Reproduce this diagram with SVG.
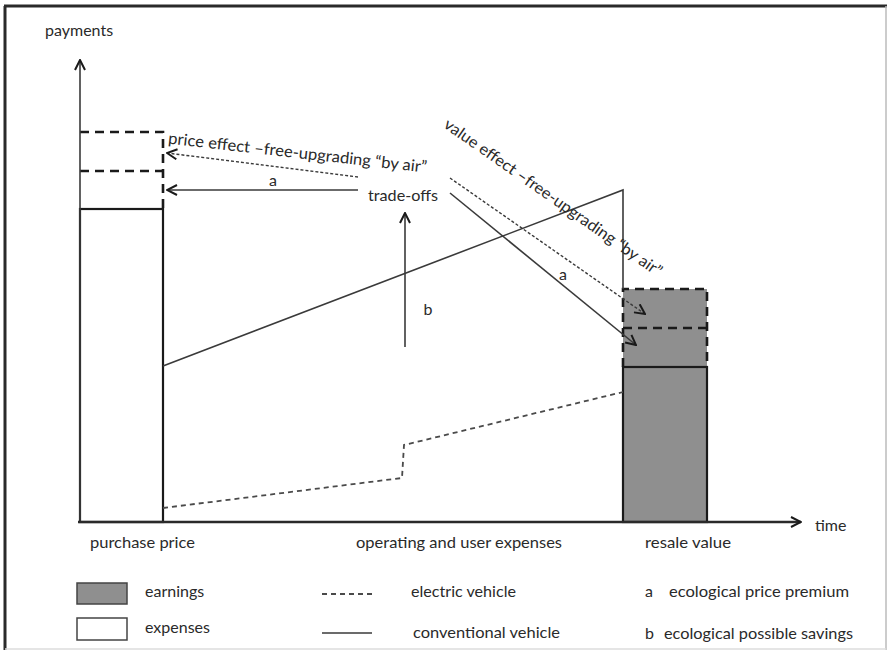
<svg xmlns="http://www.w3.org/2000/svg" width="888" height="651" viewBox="0 0 888 651">
<style>
text{font-family:Lato,"Open Sans","Liberation Sans",sans-serif;font-size:16px;fill:#2a2a2a}
.ln{stroke:#3a3a3a;stroke-width:1.6;fill:none}
.dot{stroke:#3a3a3a;stroke-width:1.4;fill:none;stroke-dasharray:3 2}
.dash{stroke:#1a1a1a;stroke-width:2.6;fill:none;stroke-dasharray:9 6}
.ev{stroke:#4a4a4a;stroke-width:1.8;fill:none;stroke-dasharray:5 4}
</style>
<defs>
<marker id="ah" viewBox="0 0 12 12" refX="11" refY="6" markerWidth="12" markerHeight="12" markerUnits="userSpaceOnUse" orient="auto">
<path d="M1,1 L11,6 L1,11" fill="none" stroke="#1a1a1a" stroke-width="2"/>
</marker>
</defs>
<rect width="888" height="651" fill="#ffffff"/>
<g id="frame">
<line x1="4" y1="6" x2="887" y2="6" stroke="#2a2a2a" stroke-width="3"/>
<line x1="5" y1="6" x2="5" y2="650" stroke="#2a2a2a" stroke-width="3"/>
<line x1="886" y1="6" x2="886" y2="650" stroke="#bbbbbb" stroke-width="1.5"/>
<line x1="5" y1="649" x2="886" y2="649" stroke="#dddddd" stroke-width="1.5"/>
</g>
<g id="purchase-bar">
<rect x="80" y="209" width="83" height="313" fill="#ffffff" stroke="#1a1a1a" stroke-width="2.2"/>
<path class="dash" d="M80,132 H163 V209 M80,171 H163"/>
</g>
<g id="resale-bar">
<rect x="623" y="289" width="84" height="233" fill="#8f8f8f"/>
<rect x="623" y="367" width="84" height="155" fill="#8f8f8f" stroke="#1a1a1a" stroke-width="2.2"/>
<path class="dash" d="M623,367 V289 H707 V367 M623,328 H707"/>
</g>
<g id="axes">
<line class="ln" x1="80" y1="522" x2="80" y2="60" marker-end="url(#ah)"/>
<line x1="78" y1="522" x2="801" y2="522" stroke="#2a2a2a" stroke-width="2.4" marker-end="url(#ah)"/>
<text x="45" y="36">payments</text>
<text x="815" y="531">time</text>
</g>
<g id="connectors">
<polyline class="ln" points="163,366 623,190 623,289"/>
<polyline class="ev" points="163,508 402,478 404,445 623,392"/>
<line class="dot" x1="358" y1="177" x2="167" y2="153" marker-end="url(#ah)"/>
<line class="ln" x1="358" y1="190" x2="167" y2="190" marker-end="url(#ah)"/>
<line class="ln" x1="405" y1="347" x2="405" y2="213" marker-end="url(#ah)"/>
<line class="dot" x1="450" y1="178" x2="645" y2="314" marker-end="url(#ah)"/>
<line class="ln" x1="450" y1="193" x2="636" y2="345" marker-end="url(#ah)"/>
</g>
<g id="labels">
<text x="297" y="158" text-anchor="middle" textLength="260" lengthAdjust="spacingAndGlyphs" transform="rotate(6.4 297 158)">price effect –free-upgrading “by air”</text>
<text x="550" y="202" text-anchor="middle" textLength="262" lengthAdjust="spacingAndGlyphs" transform="rotate(35 550 202)">value effect –free-upgrading “by air”</text>
<text x="273" y="186" text-anchor="middle">a</text>
<text x="563" y="280" text-anchor="middle">a</text>
<text x="428" y="315" text-anchor="middle">b</text>
<text x="368" y="201" textLength="70" lengthAdjust="spacingAndGlyphs">trade-offs</text>
<text x="90" y="548" textLength="105" lengthAdjust="spacingAndGlyphs">purchase price</text>
<text x="356" y="548" textLength="206" lengthAdjust="spacingAndGlyphs">operating and user expenses</text>
<text x="645" y="548" textLength="86" lengthAdjust="spacingAndGlyphs">resale value</text>
</g>
<g id="legend">
<rect x="77" y="583" width="50" height="21" fill="#8f8f8f" stroke="#444" stroke-width="1.5"/>
<rect x="77" y="618" width="50" height="22" fill="#ffffff" stroke="#444" stroke-width="1.5"/>
<text x="145" y="597">earnings</text>
<text x="145" y="633">expenses</text>
<line class="ev" x1="322" y1="594" x2="372" y2="594" stroke-width="1.5" stroke-dasharray="4 3"/>
<line class="ln" x1="322" y1="633" x2="372" y2="633"/>
<text x="411" y="597" textLength="105" lengthAdjust="spacingAndGlyphs">electric vehicle</text>
<text x="413" y="638" textLength="147" lengthAdjust="spacingAndGlyphs">conventional vehicle</text>
<text x="645" y="597">a</text>
<text x="669" y="597" textLength="180" lengthAdjust="spacingAndGlyphs">ecological price premium</text>
<text x="645" y="639">b</text>
<text x="664" y="639" textLength="189" lengthAdjust="spacingAndGlyphs">ecological possible savings</text>
</g>
</svg>
